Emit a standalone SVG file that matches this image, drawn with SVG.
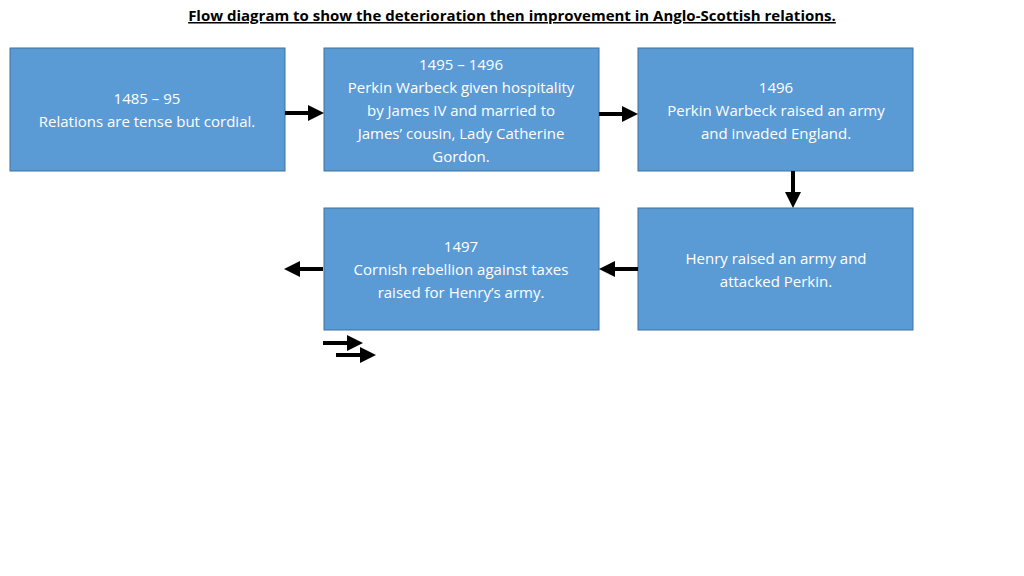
<svg xmlns="http://www.w3.org/2000/svg" width="1024" height="576" viewBox="0 0 1024 576">
<style>
.b{fill:#5b9bd5;stroke:#41719c;stroke-width:1}
.t{font-family:"Open Sans","Liberation Sans",sans-serif;font-size:15px;fill:#fff;text-anchor:middle}
.c{stroke:#000;stroke-width:4;fill:none;marker-end:url(#a)}
</style>
<defs><marker id="a" markerWidth="4" markerHeight="4" refX="1" refY="2" orient="auto" markerUnits="strokeWidth"><path d="M0,0L4,2L0,4Z" fill="#000"/></marker></defs>
<rect width="1024" height="576" fill="#fff"/>
<text x="512" y="21" font-family="'Open Sans','Liberation Sans',sans-serif" font-size="15" font-weight="bold" text-anchor="middle" text-decoration="underline">Flow diagram to show the deterioration then improvement in Anglo-Scottish relations.</text>
<g id="n1"><rect class="b" x="10" y="48" width="275" height="123"/><text class="t" x="147" y="104">1485 – 95</text><text class="t" x="147" y="127">Relations are tense but cordial.</text></g>
<g id="n2"><rect class="b" x="324" y="48" width="275" height="123"/><text class="t" x="461" y="70">1495 – 1496</text><text class="t" x="461" y="93">Perkin Warbeck given hospitality</text><text class="t" x="461" y="116">by James IV and married to</text><text class="t" x="461" y="139">James’ cousin, Lady Catherine</text><text class="t" x="461" y="162">Gordon.</text></g>
<g id="n3"><rect class="b" x="638" y="48" width="275" height="123"/><text class="t" x="776" y="93">1496</text><text class="t" x="776" y="116">Perkin Warbeck raised an army</text><text class="t" x="776" y="139">and invaded England.</text></g>
<g id="n4"><rect class="b" x="324" y="208" width="275" height="122"/><text class="t" x="461" y="252">1497</text><text class="t" x="461" y="275">Cornish rebellion against taxes</text><text class="t" x="461" y="298">raised for Henry’s army.</text></g>
<g id="n5"><rect class="b" x="638" y="208" width="275" height="122"/><text class="t" x="776" y="264">Henry raised an army and</text><text class="t" x="776" y="287">attacked Perkin.</text></g>
<g id="connectors">
<path class="c" d="M285,113H312"/>
<path class="c" d="M599,114H626"/>
<path class="c" d="M793,171V196"/>
<path class="c" d="M638,269H611"/>
<path class="c" d="M323,269H296"/>
<path class="c" d="M323,343H351"/>
<path class="c" d="M336,355H364"/>
</g>
</svg>
